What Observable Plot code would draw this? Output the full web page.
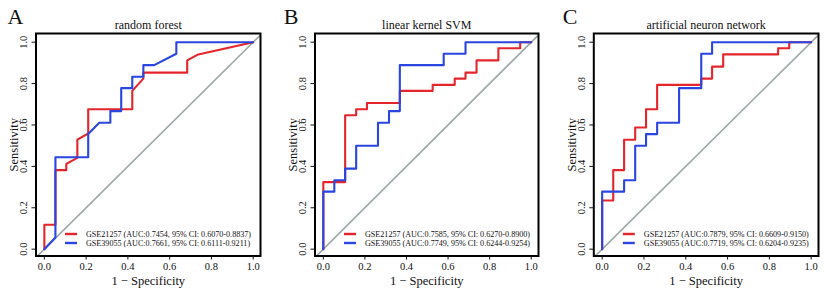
<!DOCTYPE html>
<html>
<head>
<meta charset="utf-8">
<script src="https://cdn.jsdelivr.net/npm/d3@7"></script>
<script src="https://cdn.jsdelivr.net/npm/@observablehq/plot@0.6"></script>
<style>
  html, body { margin: 0; padding: 0; background: #fff; }
  #wrap { position: relative; width: 824px; height: 290px; overflow: hidden; font-family: "Liberation Serif", serif; }
  .panel { position: absolute; top: 0; }
  svg { display: block; }
  #wrap svg text { font-family: "Liberation Serif", serif !important; }
</style>
</head>
<body>
<div id="wrap"></div>
<script>
// ---------- data ----------
const panelLetters = ["A", "B", "C"];
const panelTitles = ["random forest", "linear kernel SVM", "artificial neuron network"];
const seriesNames = ["GSE21257", "GSE39055"];
const legendA = ["GSE21257 (AUC:0.7454, 95% CI: 0.6070-0.8837)", "GSE39055 (AUC:0.7661, 95% CI: 0.6111-0.9211)"];
const legendB = ["GSE21257 (AUC:0.7585, 95% CI: 0.6270-0.8900)", "GSE39055 (AUC:0.7749, 95% CI: 0.6244-0.9254)"];
const legendC = ["GSE21257 (AUC:0.7879, 95% CI: 0.6609-0.9150)", "GSE39055 (AUC:0.7719, 95% CI: 0.6204-0.9235)"];
const xTicks = [0, 0.2, 0.4, 0.6, 0.8, 1.0];
const yTicks = [0, 0.2, 0.4, 0.6, 0.8, 1.0];
const xLabel = "1 \u2212 Specificity";
const yLabel = "Sensitivity";
const refLine = [-0.1, 1.1];

// Panel A: random forest
const aRedX = [0, 0, 0.053, 0.053, 0.105, 0.105, 0.158, 0.158, 0.21, 0.21, 0.421, 0.421, 0.474, 0.474, 0.684, 0.684, 0.737, 1];
const aRedY = [0, 0.118, 0.118, 0.382, 0.382, 0.412, 0.441, 0.529, 0.559, 0.676, 0.676, 0.765, 0.824, 0.853, 0.853, 0.912, 0.941, 1];
const aBlueX = [0, 0.053, 0.053, 0.21, 0.21, 0.263, 0.316, 0.316, 0.368, 0.368, 0.421, 0.421, 0.474, 0.474, 0.526, 0.632, 0.632, 1];
const aBlueY = [0, 0.056, 0.444, 0.444, 0.556, 0.611, 0.611, 0.667, 0.667, 0.778, 0.778, 0.833, 0.833, 0.889, 0.889, 0.944, 1, 1];

// Panel B: linear kernel SVM
const bRedX = [0, 0, 0.105, 0.105, 0.158, 0.158, 0.21, 0.21, 0.368, 0.368, 0.526, 0.526, 0.632, 0.632, 0.684, 0.684, 0.737, 0.737, 0.842, 0.842, 0.947, 0.947, 1];
const bRedY = [0, 0.324, 0.324, 0.647, 0.647, 0.676, 0.676, 0.706, 0.706, 0.765, 0.765, 0.794, 0.794, 0.824, 0.824, 0.853, 0.853, 0.912, 0.912, 0.971, 0.971, 1, 1];
const bBlueX = [0, 0, 0.053, 0.053, 0.105, 0.105, 0.158, 0.158, 0.263, 0.263, 0.316, 0.316, 0.368, 0.368, 0.579, 0.579, 0.684, 0.684, 1];
const bBlueY = [0, 0.278, 0.278, 0.333, 0.333, 0.389, 0.389, 0.5, 0.5, 0.611, 0.611, 0.667, 0.667, 0.889, 0.889, 0.944, 0.944, 1, 1];

// Panel C: artificial neuron network
const cRedX = [0, 0, 0.053, 0.053, 0.105, 0.105, 0.158, 0.158, 0.21, 0.21, 0.263, 0.263, 0.474, 0.474, 0.526, 0.526, 0.579, 0.579, 0.842, 0.842, 0.895, 0.895, 1];
const cRedY = [0, 0.235, 0.235, 0.382, 0.382, 0.529, 0.529, 0.588, 0.588, 0.676, 0.676, 0.794, 0.794, 0.824, 0.824, 0.882, 0.882, 0.941, 0.941, 0.971, 0.971, 1, 1];
const cBlueX = [0, 0, 0.105, 0.105, 0.158, 0.158, 0.21, 0.21, 0.263, 0.263, 0.368, 0.368, 0.474, 0.474, 0.526, 0.526, 1];
const cBlueY = [0, 0.278, 0.278, 0.333, 0.333, 0.5, 0.5, 0.556, 0.556, 0.611, 0.611, 0.778, 0.778, 0.944, 0.944, 1, 1];

const colors = ["#e4262c", "#2a45e0"];
const greyLine = "#a0aaaa";

// ---------- build ----------
const pts = (xs, ys) => xs.map((x, i) => ({x, y: ys[i]}));

const panels = [
  {left: 0, width: 275, ml: 35.5, mr: 15, letterDx: -20.5, legend: legendA, red: pts(aRedX, aRedY), blue: pts(aBlueX, aBlueY)},
  {left: 275, width: 275, ml: 39.5, mr: 12, letterDx: -24, legend: legendB, red: pts(bRedX, bRedY), blue: pts(bBlueX, bBlueY)},
  {left: 550, width: 274, ml: 43.3, mr: 6, letterDx: -23.8, legend: legendC, red: pts(cRedX, cRedY), blue: pts(cBlueX, cBlueY)}
];

const font = "Liberation Serif";

function legendMark(labels) {
  return (index, scales, values, dims) => {
    const g = d3.create("svg:g");
    const x0 = dims.marginLeft;
    const yb = dims.height - dims.marginBottom;
    labels.forEach((t, i) => {
      const cy = yb - 21.5 + i * 9;
      g.append("line")
        .attr("x1", x0 + 29.5).attr("x2", x0 + 41.5)
        .attr("y1", cy).attr("y2", cy)
        .attr("stroke", colors[i]).attr("stroke-width", 2.4);
      g.append("text")
        .attr("x", x0 + 50.5).attr("y", cy)
        .attr("dy", "0.34em")
        .attr("text-anchor", "start")
        .attr("font-size", 8.1)
        .attr("font-family", font)
        .attr("fill", "#111")
        .text(t);
    });
    return g.node();
  };
}

const wrap = document.getElementById("wrap");
panels.forEach((p, k) => {
  const chart = Plot.plot({
    width: p.width,
    height: 290,
    marginLeft: p.ml,
    marginRight: p.mr,
    marginTop: 33,
    marginBottom: 34.5,
    style: {fontFamily: font, fontSize: "10px", background: "#fff", color: "#111"},
    x: {domain: [-0.04, 1.035]},
    y: {domain: [-0.033, 1.042]},
    marks: [
      Plot.line(refLine, {x: d => d, y: d => d, stroke: greyLine, strokeWidth: 1.7, clip: true}),
      Plot.line(p.red, {x: "x", y: "y", stroke: colors[0], strokeWidth: 2.1}),
      Plot.line(p.blue, {x: "x", y: "y", stroke: colors[1], strokeWidth: 2.1}),
      Plot.frame({stroke: "#000", strokeWidth: 2}),
      Plot.axisX({ticks: xTicks, tickSize: 4, tickPadding: 3, tickFormat: d => d.toFixed(1), label: null, fontSize: 10.5, fontFamily: font}),
      Plot.axisY({ticks: yTicks, tickSize: 4, tickFormat: () => "", label: null}),
      Plot.text(yTicks, {y: d => d, text: d => d.toFixed(1), frameAnchor: "left", dx: -12.5, rotate: -90, fontSize: 10.5, fontFamily: font, textAnchor: "middle", lineAnchor: "middle"}),
      Plot.text([xLabel], {frameAnchor: "bottom", dy: 24.5, fontSize: 12.5, fontFamily: font, textAnchor: "middle", lineAnchor: "middle"}),
      Plot.text([yLabel], {frameAnchor: "left", dx: -22, rotate: -90, fontSize: 12.5, fontFamily: font, textAnchor: "middle", lineAnchor: "middle"}),
      Plot.text([panelTitles[k]], {frameAnchor: "top", dy: -8, fontSize: 12, fontFamily: font, textAnchor: "middle", lineAnchor: "middle"}),
      Plot.text([panelLetters[k]], {frameAnchor: "top-left", dx: p.letterDx, dy: -17, fontSize: 22, fontFamily: font, textAnchor: "middle", lineAnchor: "middle"}),
      legendMark(p.legend)
    ]
  });
  const div = document.createElement("div");
  div.className = "panel";
  div.style.left = p.left + "px";
  div.appendChild(chart);
  wrap.appendChild(div);
});
</script>
</body>
</html>
